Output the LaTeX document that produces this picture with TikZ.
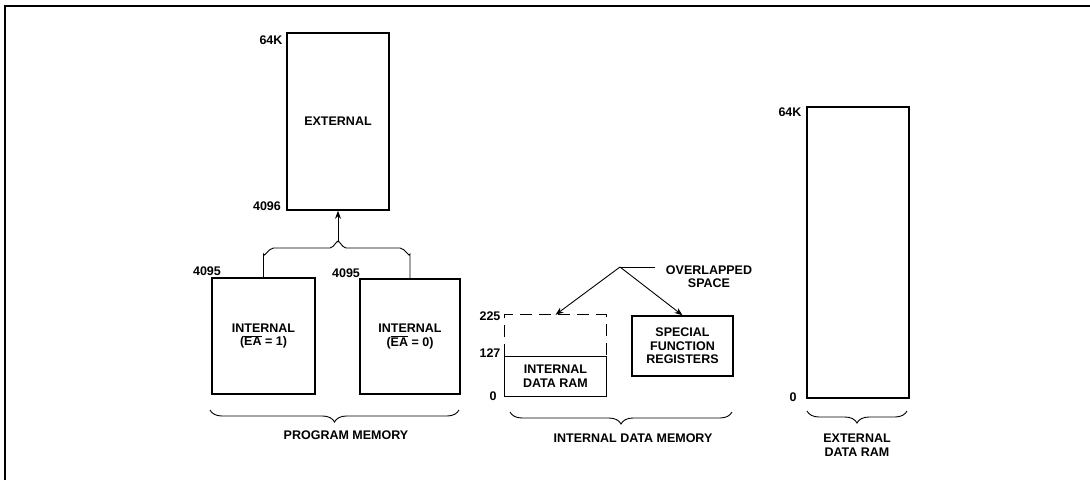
\documentclass[tikz,border=0pt]{standalone}
\usepackage{fontspec}
\setmainfont{Liberation Sans}
\usetikzlibrary{arrows.meta,decorations.pathreplacing}
\tikzset{
  membox/.style={draw, line width=1.6pt, rectangle, inner sep=0pt, align=center},
  lbl/.style={inner sep=0pt, align=center},
  thin line/.style={line width=0.9pt},
  arr/.style={thin line, -{Stealth[length=8pt,width=6pt]}},
  bracedown/.style={thin line, decorate, decoration={brace, mirror, amplitude=12pt}},
  rampart/.style={line width=1.2pt},
}
\begin{document}
\begin{tikzpicture}[x=1pt, y=-1pt, font=\bfseries\fontsize{12.5}{13.5}\selectfont]
\useasboundingbox (0,0) rectangle (1090,480);
% frame
\coordinate (f1) at (5,480);
\coordinate (f2) at (5,6);
\coordinate (f3) at (1090,6);
\draw[line width=1.3pt] (f1) -- (f2) -- (f3);

% program memory
\node[membox, minimum width=102pt, minimum height=177pt] (ext) at (338,121.5) {EXTERNAL};
\node[membox, minimum width=103pt, minimum height=116pt] (int1) at (263.5,336) {INTERNAL\\($\overline{\hbox{EA}}$ = 1)};
\node[membox, minimum width=100pt, minimum height=115pt] (int2) at (410,336.5) {INTERNAL\\($\overline{\hbox{EA}}$ = 0)};
\node[lbl] (l64a) at (271,40) {64K};
\node[lbl] (l4096) at (267,206) {4096};
\node[lbl] (l4095a) at (207,271) {4095};
\node[lbl] (l4095b) at (346,273) {4095};

\coordinate (junc) at (338,242);
\draw[thin line] (int1.north) -- (int1.north |- 0,254) to[out=-90,in=180] ([xshift=10pt]int1.north |- 0,248) -- (330,248) to[out=0,in=90] (junc);
\draw[thin line] (int2.north) -- (int2.north |- 0,254) to[out=-90,in=0] ([xshift=-10pt]int2.north |- 0,248) -- (346,248) to[out=180,in=90] (junc);
\draw[arr] (junc) -- (ext.south);

\coordinate (pmL) at (210,410);
\coordinate (pmR) at (459,410);
\draw[bracedown] (pmL) -- (pmR);
\node[lbl] (pm) at (346,435) {PROGRAM MEMORY};

% internal data memory
\node[inner sep=0pt, align=center, minimum width=101pt, minimum height=40pt] (iram) at (555.5,376) {INTERNAL\\DATA RAM};
\draw[rampart] (iram.north west) -- (iram.south west) -- (iram.south east) -- (iram.north east);
\node[inner sep=0pt, minimum width=101pt, minimum height=41pt] (iup) at (555.5,335.5) {};
\draw[rampart, dash pattern=on 12pt off 7pt] (iup.south west) -- (iup.north west) -- (iup.north east) -- (iup.south east);
\draw[line width=0.9pt] (iup.south west) -- (iup.south east);
\node[membox, line width=1.4pt, minimum width=101pt, minimum height=60pt] (sfr) at (682.5,346) {SPECIAL\\FUNCTION\\REGISTERS};
\node[lbl] (l225) at (490,316) {225};
\node[lbl] (l127) at (490,353) {127};
\node[lbl] (l0a) at (493,396) {0};

\node[lbl] (ovl) at (709,276.5) {OVERLAPPED\\SPACE};
\coordinate (lead) at (620,267);
\coordinate (leadend) at (655,267);
\draw[thin line] (lead) -- (leadend);
\draw[arr] (lead) -- (iup.north);
\draw[arr] (lead) -- (sfr.north);

\coordinate (idL) at (510,412);
\coordinate (idR) at (732,412);
\draw[bracedown] (idL) -- (idR);
\node[lbl] (idm) at (633,438) {INTERNAL DATA MEMORY};

% external data ram
\node[membox, minimum width=102pt, minimum height=291pt] (xram) at (858,252.5) {};
\node[lbl] (l64b) at (790,112) {64K};
\node[lbl] (l0b) at (793,397) {0};
\coordinate (xdL) at (807,411);
\coordinate (xdR) at (907,411);
\draw[bracedown] (xdL) -- (xdR);
\node[lbl] (xdr) at (857,445) {EXTERNAL\\DATA RAM};
\end{tikzpicture}
\end{document}
